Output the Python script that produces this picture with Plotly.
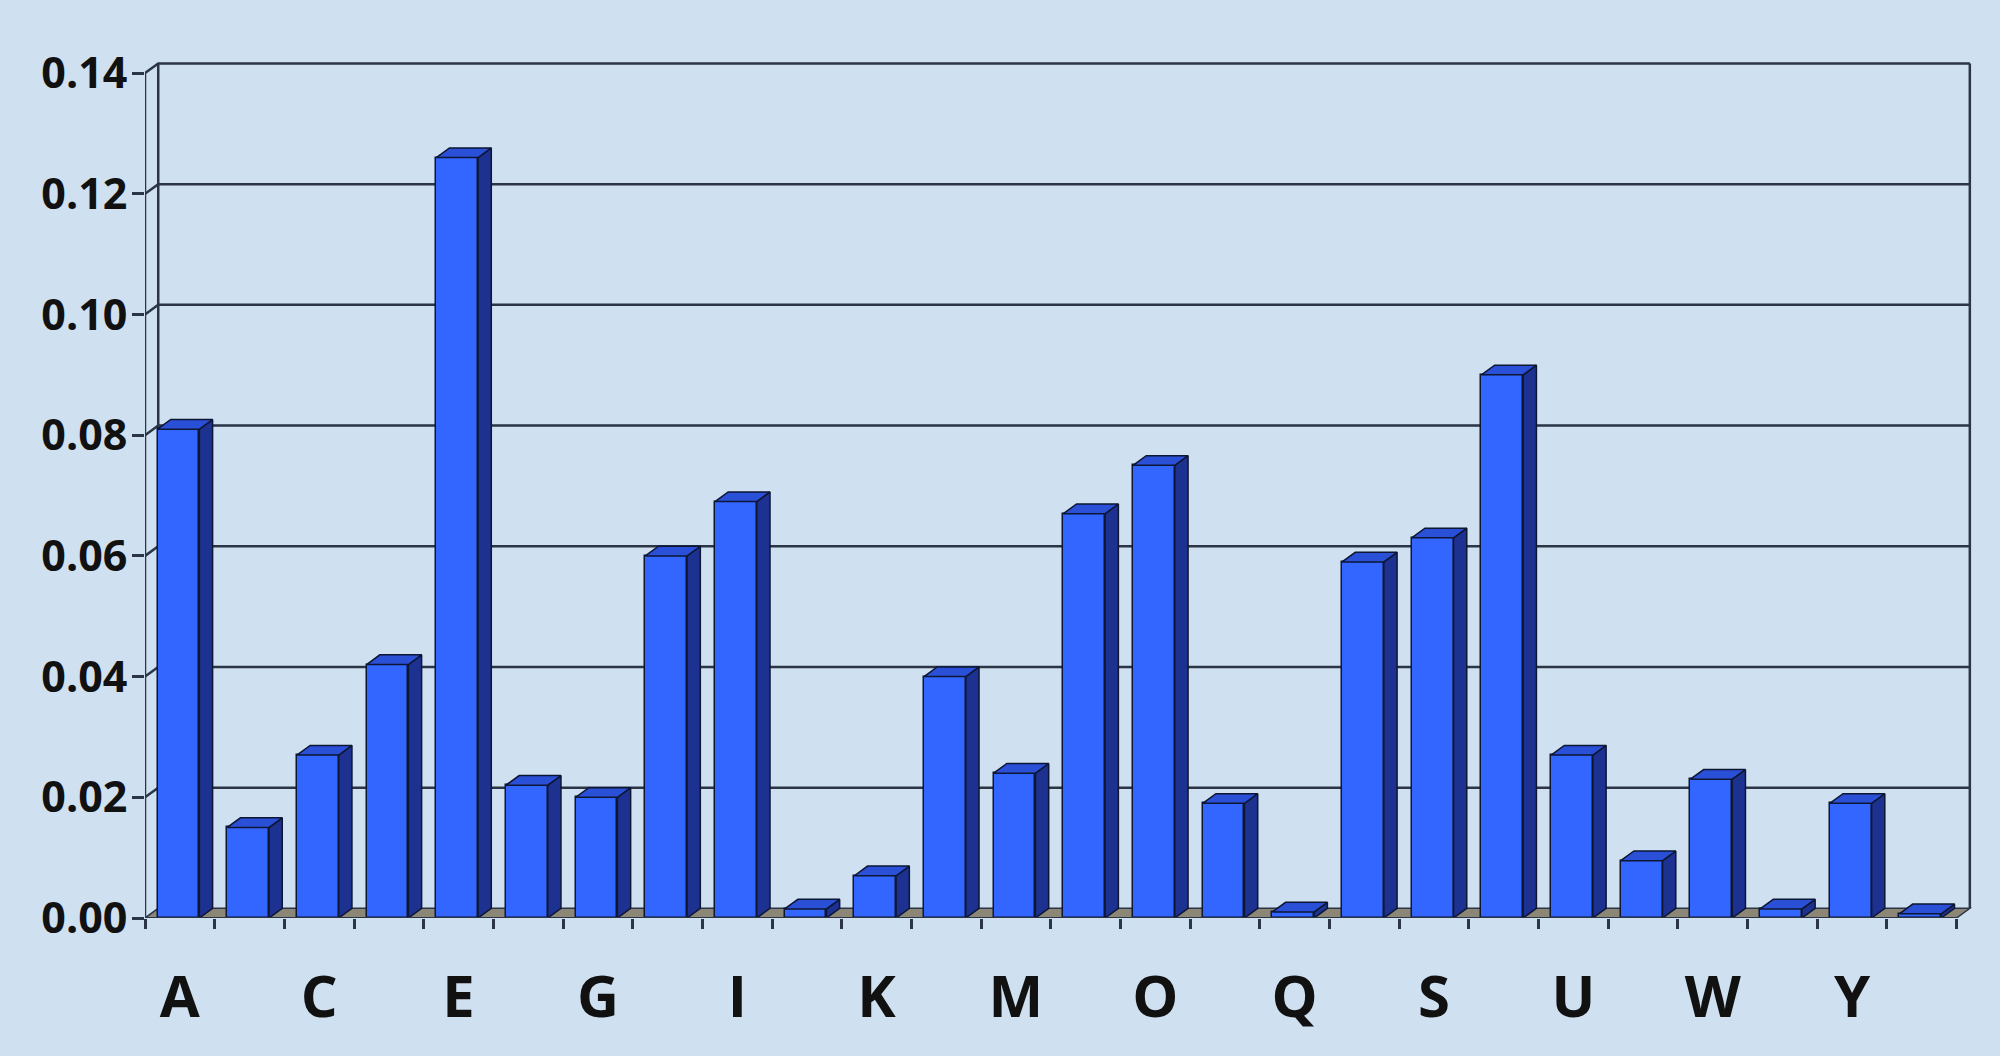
import plotly.graph_objects as go

letters = list("ABCDEFGHIJKLMNOPQRSTUVWXYZ")
freqs = [0.081, 0.015, 0.027, 0.042, 0.126, 0.022, 0.020, 0.060, 0.069, 0.0015,
         0.007, 0.040, 0.024, 0.067, 0.075, 0.019, 0.001, 0.059, 0.063, 0.090,
         0.027, 0.0095, 0.023, 0.0015, 0.019, 0.0007]
y_ticks = [0.00, 0.02, 0.04, 0.06, 0.08, 0.10, 0.12, 0.14]
label_letters = letters[::2]

# 3D styling constants
DX = 0.19      # depth offset in category units
DY = 0.0016    # depth offset in value units
BAR_L = 0.18   # front face left offset within category
BAR_W = 0.60   # front face width
N = len(letters)
YMAX = y_ticks[-1]

BG = "#cfe0f1"
FRONT = "#3366ff"
SIDE = "#1c3190"
TOP = "#2b50d8"
EDGE = "#0d1633"
GRID = "#2b3545"
FLOOR = "#8c8677"

fig = go.Figure()

# front faces (bars)
fig.add_trace(go.Bar(
    x=[i + BAR_L + BAR_W / 2 for i in range(N)], y=freqs, width=BAR_W,
    marker=dict(color=FRONT, line=dict(color=EDGE, width=1.5)),
    showlegend=False, hoverinfo="skip"))

# side and top faces
sx, sy, tx, ty = [], [], [], []
for i, v in enumerate(freqs):
    l = i + BAR_L
    r = l + BAR_W
    sx += [r, r + DX, r + DX, r, r, None]
    sy += [0, DY, v + DY, v, 0, None]
    tx += [l, l + DX, r + DX, r, l, None]
    ty += [v, v + DY, v + DY, v, v, None]
fig.add_trace(go.Scatter(x=sx, y=sy, mode="lines", fill="toself", fillcolor=SIDE,
                         line=dict(color=EDGE, width=1.5), showlegend=False,
                         hoverinfo="skip", cliponaxis=False))
fig.add_trace(go.Scatter(x=tx, y=ty, mode="lines", fill="toself", fillcolor=TOP,
                         line=dict(color=EDGE, width=1.5), showlegend=False,
                         hoverinfo="skip", cliponaxis=False))

shapes = []
# floor
shapes.append(dict(type="path", xref="x", yref="y", layer="below",
                   path=f"M 0,0 L {N},0 L {N+DX},{DY} L {DX},{DY} Z",
                   fillcolor=FLOOR, line=dict(color=GRID, width=1.5)))
# back wall gridlines with diagonal connectors
for v in y_ticks[1:]:
    shapes.append(dict(type="path", xref="x", yref="y", layer="below",
                       path=f"M 0,{v} L {DX},{v+DY} L {N+DX},{v+DY}",
                       line=dict(color=GRID, width=2.5)))
# wall verticals
shapes.append(dict(type="line", xref="x", yref="y", layer="below",
                   x0=DX, x1=DX, y0=DY, y1=YMAX + DY, line=dict(color=GRID, width=2.5)))
shapes.append(dict(type="line", xref="x", yref="y", layer="below",
                   x0=N + DX, x1=N + DX, y0=DY, y1=YMAX + DY, line=dict(color=GRID, width=2.5)))
# front axes
shapes.append(dict(type="line", xref="x", yref="y", layer="above",
                   x0=0, x1=0, y0=0, y1=YMAX, line=dict(color=GRID, width=2.5)))
shapes.append(dict(type="line", xref="x", yref="y", layer="above",
                   x0=0, x1=N, y0=0, y1=0, line=dict(color=GRID, width=2)))

fig.update_layout(
    width=2000, height=1056, autosize=False,
    paper_bgcolor=BG, plot_bgcolor=BG,
    margin=dict(l=145, r=26, t=58, b=138),
    shapes=shapes,
    bargap=0,
    xaxis=dict(range=[0, N + 0.25], showgrid=False, zeroline=False, showline=False,
               tickmode="array", tickvals=[i + 0.5 for i in range(0, N, 2)],
               ticktext=label_letters, ticks="", ticklabelstandoff=40,
               tickfont=dict(family="Open Sans", size=58, color="#111111", weight="bold"),
               minor=dict(ticks="outside", ticklen=10, tickwidth=2.5, tickcolor=GRID,
                          tick0=0, dtick=1, showgrid=False)),
    yaxis=dict(range=[0, 0.1425], showgrid=False, zeroline=False, showline=False,
               tickmode="array", tickvals=y_ticks, tickformat=".2f",
               ticks="outside", ticklen=12, tickwidth=2.5, tickcolor=GRID,
               ticklabelstandoff=-4,
               tickfont=dict(family="Open Sans", size=43, color="#111111", weight="bold")),
)

fig.write_html("out.html", config={"displayModeBar": False},
               post_script="document.body.style.margin='0';document.body.style.background='" + BG + "';")
